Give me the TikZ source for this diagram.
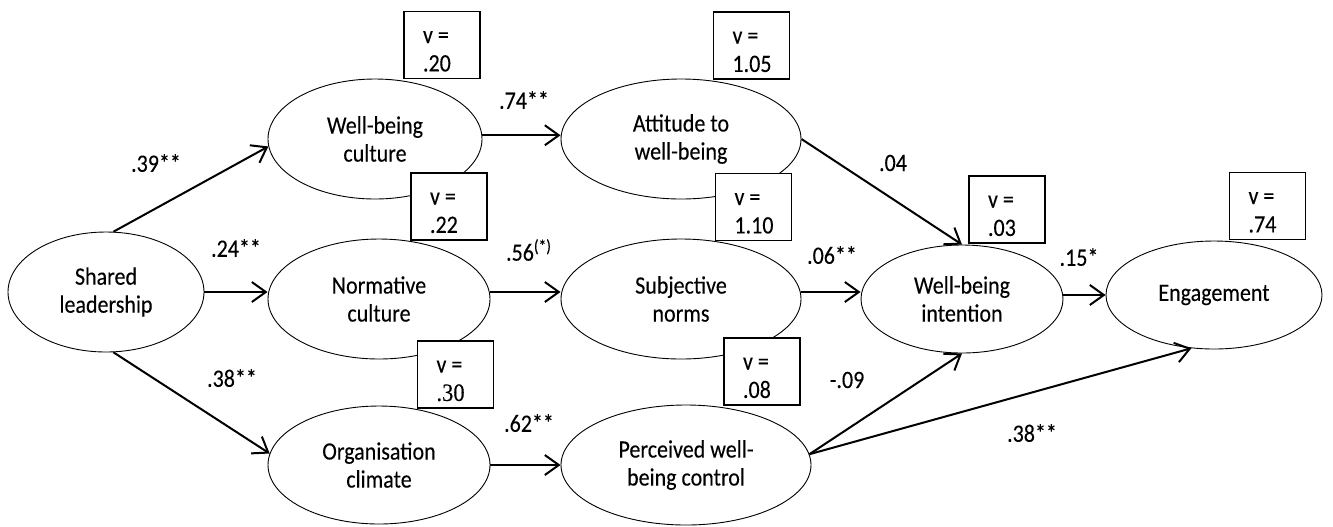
\documentclass[tikz,border=0pt]{standalone}
\usepackage{fontspec}
\setmainfont{Carlito}[FakeStretch=0.88,FakeBold=0.15]
\newfontfamily\numserif{Liberation Serif}[FakeStretch=0.9,FakeBold=0.15]
\usetikzlibrary{shapes.geometric,arrows.meta}

% two-line residual variance text, first baseline just above the box centre,
% starting a fixed distance from the left edge of the box
\newcommand\vtext[1]{\makebox[0pt][l]{\hspace*{-9.5pt}\raisebox{1pt}[0pt][0pt]{%
  \begin{tabular}[t]{@{}l@{}}v =\\#1\end{tabular}}}}

\begin{document}
\begin{tikzpicture}[x=0.5pt,y=-0.5pt,
  font=\fontsize{12.5}{14}\selectfont,
  latent/.style={ellipse,draw,line width=0.45pt,inner sep=0pt,align=center},
  varbox/.style={draw,line width=0.55pt,fill=white,inner sep=0pt,
                 minimum width=38pt,minimum height=33.5pt,
                 font=\fontsize{12.5}{14.2}\selectfont},
  link/.style={line width=1pt,-{Straight Barb[length=7pt,width=10pt,line width=1pt]}},
  coef/.style={inner sep=0pt}
]
\useasboundingbox (0,0) rectangle (1333,526);

% latent variables
\node[latent,minimum width=98pt, minimum height=60pt] (sl)  at (106,292) {Shared\\leadership};
\node[latent,minimum width=107pt,minimum height=60pt] (wbc) at (375,139) {Well-being\\culture};
\node[latent,minimum width=111pt,minimum height=60pt] (nc)  at (379,299) {Normative\\culture};
\node[latent,minimum width=111pt,minimum height=59pt] (oc)  at (379,465) {Organisation\\climate};
\node[latent,minimum width=120pt,minimum height=60pt] (atw) at (681,139) {Attitude to\\well-being};
\node[latent,minimum width=120pt,minimum height=60pt] (sn)  at (681,299) {Subjective\\norms};
\node[latent,minimum width=125pt,minimum height=60pt] (pwc) at (686,465) {Perceived well-\\being control};
\node[latent,minimum width=101pt,minimum height=54pt] (wbi) at (962,299) {Well-being\\intention};
\node[latent,minimum width=108pt,minimum height=54pt] (eng) at (1214,295) {Engagement};

% paths
\draw[link] (sl.83) -- (wbc.184);
\draw[link] (sl.east) -- (sl.east -| nc.west);
\draw[link] (sl.-83) -- (oc.174);
\draw[link] (wbc.2) -- (wbc.2 -| atw.west);
\draw[link] (nc.east |- sl.east) -- (sn.west |- sl.east);
\draw[link] (oc.east) -- (oc.east -| pwc.west);
\draw[link] (atw.east) -- (wbi.north);
\draw[link] (sn.east |- sl.east) -- (wbi.west |- sl.east);
\draw[link] (wbi.east |- eng.west) -- (eng.west);
\draw[link] (pwc.5) -- (wbi.south);
\draw[link] (pwc.5) -- (eng.247);

% residual variances
\node[varbox] (v1) at (442,45)      {\vtext{.20}};
\node[varbox] (v2) at (449,206.5)   {\vtext{.22}};
\node[varbox] (v3) at (751.5,45.5)  {\vtext{1.05}};
\node[varbox] (v4) at (753.5,207)   {\vtext{1.10}};
\node[varbox] (v5) at (455.5,374.5) {\vtext{{\numserif .30}}};
\node[varbox] (v6) at (762,371.5)   {\vtext{.08}};
\node[varbox] (v7) at (1007,209.5)  {\vtext{.03}};
\node[varbox] (v8) at (1267.5,206)  {\vtext{.74}};

% path coefficients
\node[coef] (c1)  at (156,163)  {.39**};
\node[coef] (c2)  at (236,248)  {.24**};
\node[coef] (c3)  at (232,378)  {.38**};
\node[coef] (c4)  at (524,100)  {.74**};
\node[coef] (c5)  at (529,250)  {.56\textsuperscript{(*)}};
\node[coef] (c6)  at (529,423)  {.62**};
\node[coef] (c7)  at (893,163)  {.04};
\node[coef] (c8)  at (832,255)  {.06**};
\node[coef] (c9)  at (847,380)  {-.09};
\node[coef] (c10) at (1079,257) {.15*};
\node[coef] (c11) at (1032,433) {.38**};
\end{tikzpicture}
\end{document}
